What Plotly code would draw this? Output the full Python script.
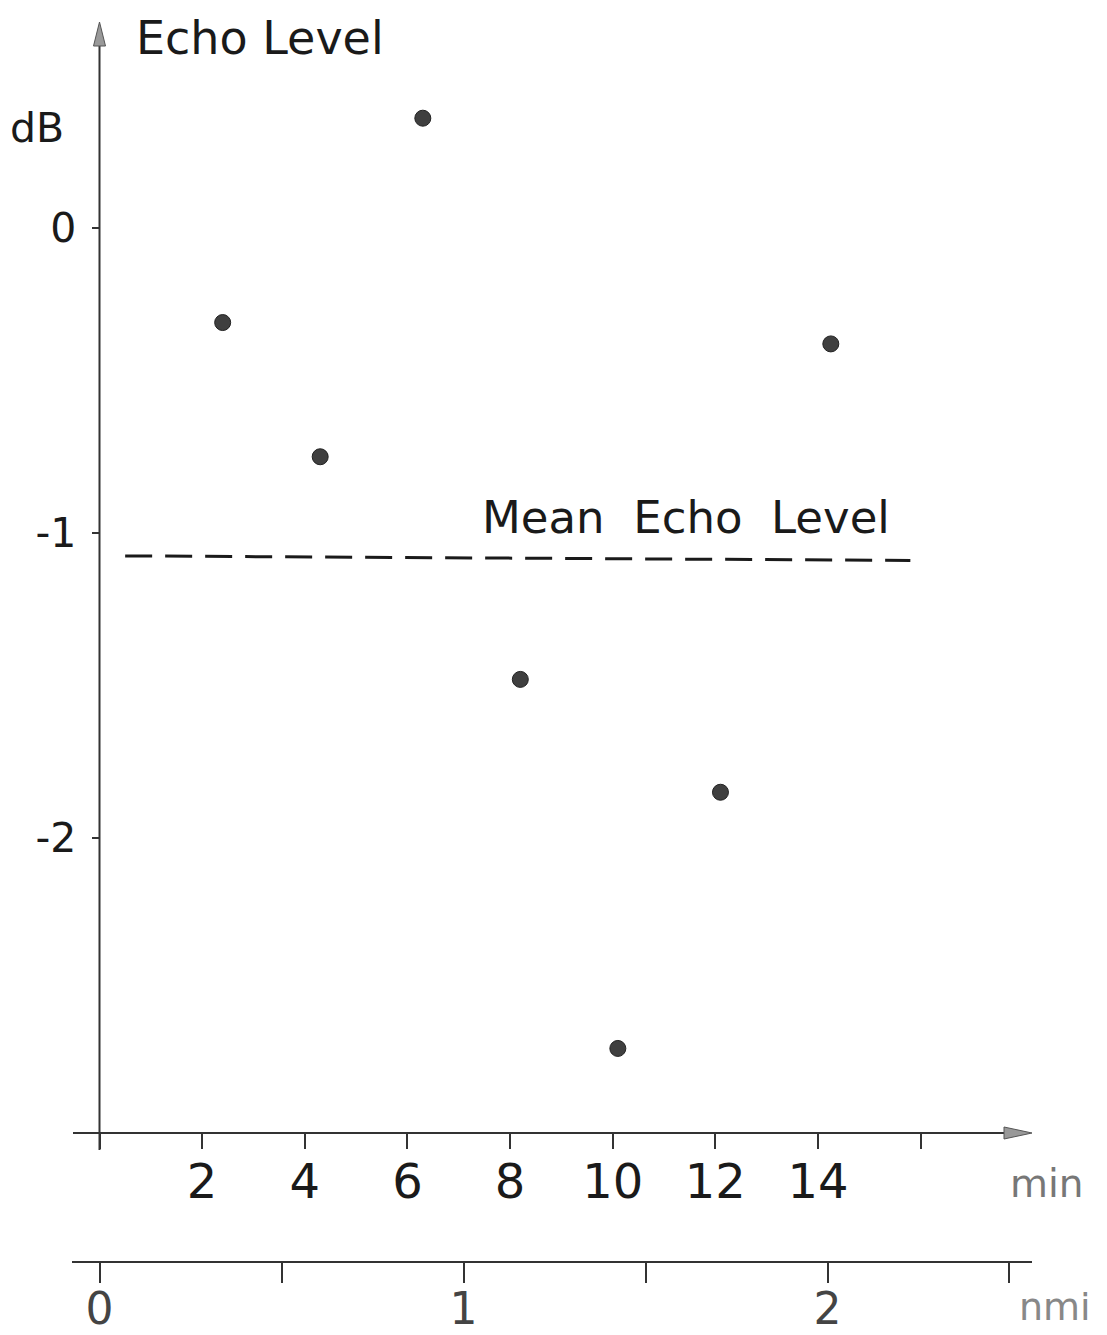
import plotly.graph_objects as go

# ---- data ----
minutes = [2.4, 4.3, 6.3, 8.2, 10.1, 12.1, 14.25]
echo_db = [-0.31, -0.75, 0.36, -1.48, -2.69, -1.85, -0.38]
mean_x = [0.5, 15.8]
mean_db = [-1.075, -1.09]
min_ticks = [0, 2, 4, 6, 8, 10, 12, 14, 16]
min_ticktext = ["", "2", "4", "6", "8", "10", "12", "14", ""]
db_ticks = [0, -1, -2]
db_ticktext = ["0", "-1", "-2"]
nmi_ticks = [0, 0.5, 1, 1.5, 2, 2.5]
nmi_ticktext = ["0", "", "1", "", "2", ""]

OFF = 8  # the page body margin of the browser
W, H = 1107 - OFF, 1335 - OFF
FONT = "DejaVu Sans"
INK = "#1a1a1a"
AX = "#333333"

# pixel geometry of the axes in page pixels (layout only)
x0_px, px_per_min = 99.5, 51.32
y0_px, px_per_db = 228.0, 305.0
n0_px, px_per_nmi = 99.6, 363.95
xaxis_y_px, nmi_y_px = 1133.0, 1262.0

xr = [-(x0_px - OFF) / px_per_min, (W - (x0_px - OFF)) / px_per_min]
yr = [-(H - (y0_px - OFF)) / px_per_db, (y0_px - OFF) / px_per_db]
nr = [-(n0_px - OFF) / px_per_nmi, (W - (n0_px - OFF)) / px_per_nmi]

def py(p):  # page pixel y -> paper
    return 1 - (p - OFF) / H

def px(p):  # page pixel x -> paper
    return (p - OFF) / W

def dx(p):  # page pixel x -> minutes
    return (p - x0_px) / px_per_min

def dy(p):  # page pixel y -> dB
    return (y0_px - p) / px_per_db

fig = go.Figure()

fig.add_trace(go.Scatter(
    x=mean_x, y=mean_db, mode="lines",
    line=dict(color=INK, width=3, dash="27px,13px"),
    showlegend=False, hoverinfo="skip"))

fig.add_trace(go.Scatter(
    x=minutes, y=echo_db, mode="markers",
    marker=dict(size=16, color="#3f3f3f", line=dict(color="#222", width=1)),
    showlegend=False))

fig.add_trace(go.Scatter(
    x=nmi_ticks, y=[None] * len(nmi_ticks), xaxis="x2", yaxis="y",
    mode="markers", showlegend=False, hoverinfo="skip"))

shapes = []
# x (min) axis line
shapes.append(dict(type="line", xref="x", yref="paper",
                   x0=dx(73), x1=dx(1008), y0=py(xaxis_y_px), y1=py(xaxis_y_px),
                   line=dict(color=AX, width=2)))
# x arrow head
tip, base, hh = dx(1032), dx(1004), 6 / H
yc = py(xaxis_y_px)
shapes.append(dict(type="path", xref="x", yref="paper",
                   path=f"M {base} {yc+hh} L {tip} {yc} L {base} {yc-hh} Z",
                   fillcolor="#999999", line=dict(color="#555", width=1)))
# nmi axis line
shapes.append(dict(type="line", xref="x", yref="paper",
                   x0=dx(72), x1=dx(1032), y0=py(nmi_y_px), y1=py(nmi_y_px),
                   line=dict(color=AX, width=2)))
# y axis line
shapes.append(dict(type="line", xref="paper", yref="y",
                   x0=px(x0_px), x1=px(x0_px), y0=dy(1150), y1=dy(44),
                   line=dict(color=AX, width=2)))
# y arrow head
xc, hw = px(x0_px), 6 / W
shapes.append(dict(type="path", xref="paper", yref="y",
                   path=f"M {xc-hw} {dy(46)} L {xc} {dy(22)} L {xc+hw} {dy(46)} Z",
                   fillcolor="#999999", line=dict(color="#555", width=1)))

NB = "\u00a0"
annotations = [
    dict(text="Echo" + NB + "Level", xref="paper", yref="paper", x=px(134), y=py(9),
         xanchor="left", yanchor="top", showarrow=False,
         font=dict(family=FONT, size=46, color=INK)),
    dict(text="dB", xref="paper", yref="paper", x=px(8), y=py(128),
         xanchor="left", yanchor="middle", showarrow=False,
         font=dict(family=FONT, size=41, color=INK)),
    dict(text="Mean" + NB * 2 + "Echo" + NB * 2 + "Level", xref="paper", yref="paper",
         x=px(892), y=py(518),
         xanchor="right", yanchor="middle", showarrow=False,
         font=dict(family=FONT, size=45, color=INK)),
    dict(text="min", xref="paper", yref="paper", x=px(1047), y=py(1183),
         xanchor="center", yanchor="middle", showarrow=False,
         font=dict(family=FONT, size=39, color="#777777")),
    dict(text="nmi", xref="paper", yref="paper", x=px(1055), y=py(1307),
         xanchor="center", yanchor="middle", showarrow=False,
         font=dict(family=FONT, size=38, color="#888888")),
]

fig.update_layout(
    width=W, height=H,
    margin=dict(l=0, r=0, t=0, b=0, autoexpand=False),
    paper_bgcolor="white", plot_bgcolor="white",
    showlegend=False,
    shapes=shapes, annotations=annotations,
    xaxis=dict(domain=[0, 1], range=xr, anchor="free", position=py(xaxis_y_px),
               automargin=False,
               showline=False, showgrid=False, zeroline=False,
               ticks="outside", ticklen=15, tickwidth=2, tickcolor=AX,
               tickvals=min_ticks, ticktext=min_ticktext,
               ticklabelstandoff=-9,
               tickfont=dict(family=FONT, size=48, color=INK)),
    xaxis2=dict(domain=[0, 1], range=nr, anchor="free", position=py(nmi_y_px),
                overlaying="x", side="bottom", automargin=False,
                showline=False, showgrid=False, zeroline=False,
                ticks="outside", ticklen=20, tickwidth=2, tickcolor=AX,
                tickvals=nmi_ticks, ticktext=nmi_ticktext,
                ticklabelstandoff=-12,
                tickfont=dict(family=FONT, size=44, color="#444444")),
    yaxis=dict(domain=[0, 1], range=yr, anchor="free", position=px(x0_px),
               automargin=False,
               showline=False, showgrid=False, zeroline=False,
               ticks="outside", ticklen=8, tickwidth=2, tickcolor=AX,
               tickvals=db_ticks, ticktext=db_ticktext,
               ticklabelstandoff=7,
               tickfont=dict(family=FONT, size=41, color=INK)),
)

fig.write_html("out.html")
